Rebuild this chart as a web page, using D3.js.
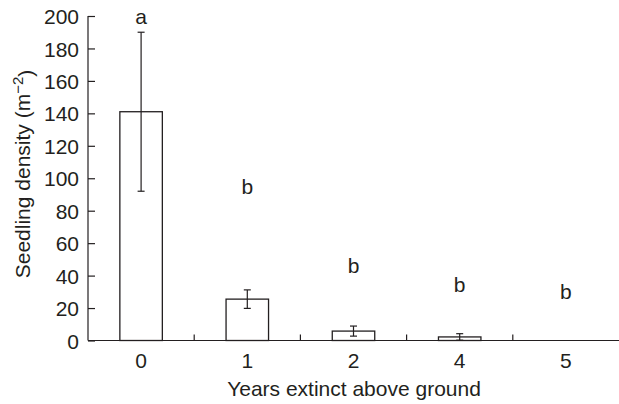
<!DOCTYPE html>
<html>
<head>
<meta charset="utf-8">
<script src="https://cdn.jsdelivr.net/npm/d3@7"></script>
<style>
body { margin: 0; background: #fff; }
text { font-family: "Liberation Sans", Arial, sans-serif; fill: #231f20; }
</style>
</head>
<body>
<svg id="chart" width="619" height="404"></svg>
<script>
// data
var years = ["0", "1", "2", "4", "5"];
var density = [141, 25.5, 5.8, 2.2, 0];
var se = [49, 5.7, 3.1, 2.0, 0];
var letters = ["a", "b", "b", "b", "b"];
var letterAt = [195, 90.3, 41.6, 29.9, 25.6];   // letter baselines, in y units
var yTicks = [0, 20, 40, 60, 80, 100, 120, 140, 160, 180, 200];

var svg = d3.select("#chart");
var mLeft = 88, mRight = 619, mTop = 16, mBottom = 340.5;
var ink = "#231f20";

var x = d3.scaleBand().domain(years).range([mLeft, mRight]).paddingInner(0.6).paddingOuter(0.3);
var y = d3.scaleLinear().domain([0, 200]).range([mBottom, mTop]);

// y axis, ticks point inward
var yAxis = svg.append("g").attr("transform", "translate(" + mLeft + ",0)")
  .call(d3.axisRight(y).tickValues(yTicks).tickSize(7));
yAxis.select(".domain").attr("d", "M0," + y(200) + "V" + y(0));
yAxis.selectAll("text").attr("text-anchor", "end").attr("x", -9).attr("dy", "0.36em")
  .style("font-size", "21px");
yAxis.selectAll(".domain, .tick line").attr("stroke", ink).attr("stroke-width", 1.2);

// x axis: separators between the groups, pointing up
var xAxis = svg.append("g").attr("transform", "translate(0," + mBottom + ")");
xAxis.append("line").attr("x1", mLeft).attr("x2", mRight).attr("stroke", ink).attr("stroke-width", 1.2);
var step = x.step();
xAxis.selectAll(".sep").data(years.slice(0, -1)).enter().append("line")
  .attr("x1", d => x(d) + x.bandwidth() / 2 + step / 2)
  .attr("x2", d => x(d) + x.bandwidth() / 2 + step / 2)
  .attr("y1", 0).attr("y2", -6)
  .attr("stroke", ink).attr("stroke-width", 1.2);
xAxis.selectAll(".lab").data(years).enter().append("text")
  .attr("x", d => x(d) + x.bandwidth() / 2)
  .attr("y", 27.5)
  .attr("text-anchor", "middle")
  .style("font-size", "21px")
  .text(d => d);

// bars
svg.selectAll(".bar").data(years.filter((d, i) => density[i] > 0)).enter()
  .append("rect")
  .attr("x", d => x(d))
  .attr("width", x.bandwidth())
  .attr("y", d => y(density[years.indexOf(d)]))
  .attr("height", d => y(0) - y(density[years.indexOf(d)]))
  .attr("fill", "#fff").attr("stroke", ink).attr("stroke-width", 1.3);

// error bars
function hi(d) { var i = years.indexOf(d); return y(density[i] + se[i]); }
function lo(d) { var i = years.indexOf(d); return y(Math.max(0, density[i] - se[i])); }
function cx(d) { return x(d) + x.bandwidth() / 2; }
var eb = svg.selectAll(".err").data(years.filter((d, i) => se[i] > 0)).enter().append("g");
eb.append("line").attr("x1", cx).attr("x2", cx).attr("y1", hi).attr("y2", lo);
eb.append("line").attr("x1", d => cx(d) - 3.5).attr("x2", d => cx(d) + 3.5).attr("y1", hi).attr("y2", hi);
eb.append("line").attr("x1", d => cx(d) - 3.5).attr("x2", d => cx(d) + 3.5).attr("y1", lo).attr("y2", lo);
eb.selectAll("line").attr("stroke", ink).attr("stroke-width", 1.2);

// significance letters
svg.selectAll(".letter").data(years).enter().append("text")
  .attr("x", cx)
  .attr("y", (d, i) => y(letterAt[i]))
  .attr("text-anchor", "middle")
  .style("font-size", "21px")
  .text((d, i) => letters[i]);

// axis titles
svg.append("text")
  .attr("x", 354).attr("y", 396)
  .attr("text-anchor", "middle")
  .style("font-size", "21px")
  .text("Years extinct above ground");

var yt = svg.append("text")
  .attr("transform", "translate(30,174) rotate(-90)")
  .attr("text-anchor", "middle")
  .style("font-size", "21px");
yt.append("tspan").text("Seedling density (m");
yt.append("tspan").attr("dy", "-0.45em").style("font-size", "15px").text("\u22122");
yt.append("tspan").attr("dy", "0.45em").text(")");
</script>
</body>
</html>
